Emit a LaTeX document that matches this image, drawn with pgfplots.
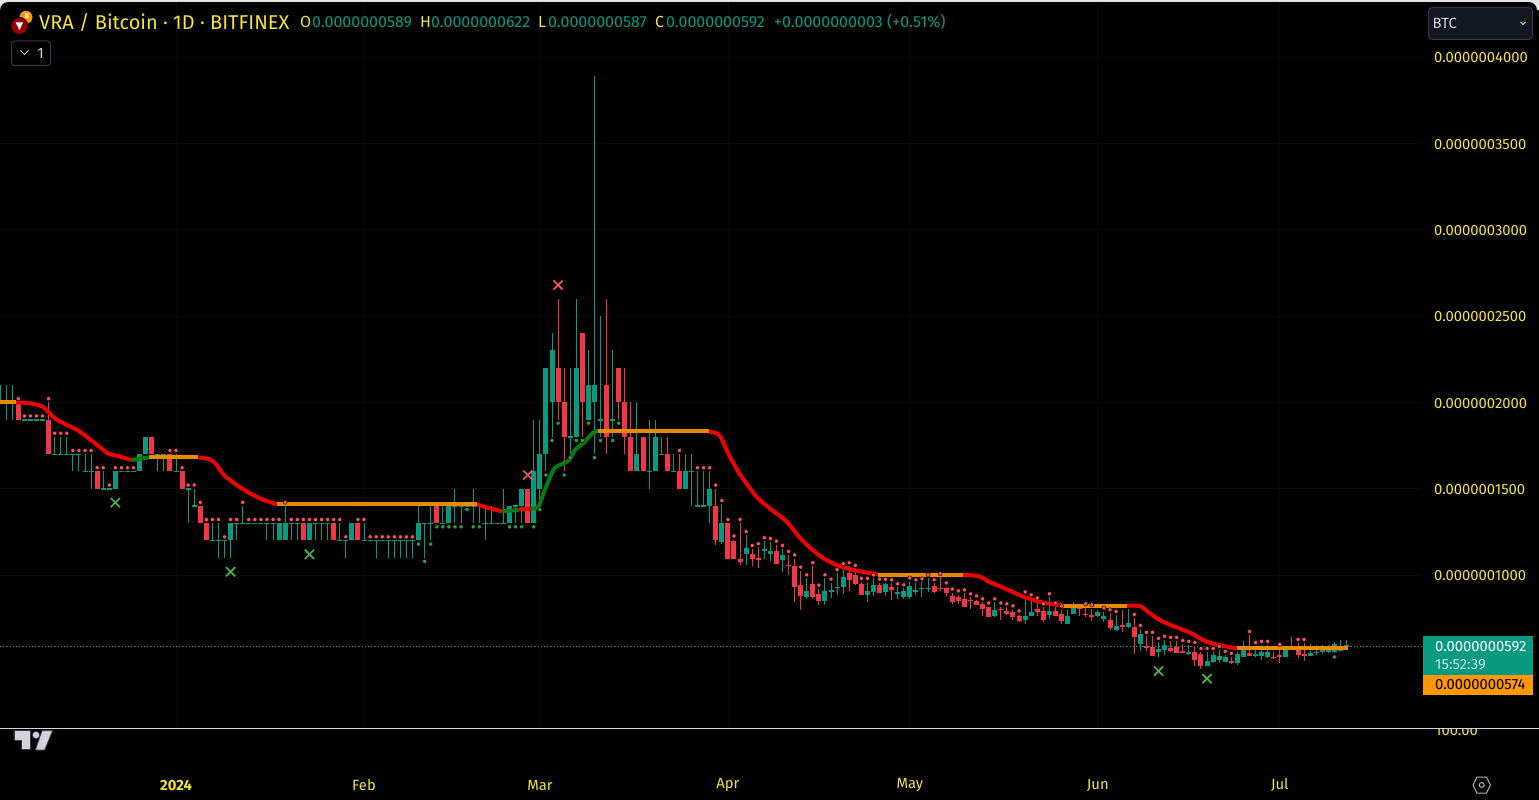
\documentclass[border=0pt]{standalone}
\usepackage{fontspec}
\setmainfont{Fira Sans}
\usepackage{pgfplots}
\usepackage{pgfplotstable}
\pgfplotsset{compat=1.18}

\definecolor{up}{HTML}{089981}
\definecolor{down}{HTML}{F23645}
\definecolor{dotred}{HTML}{F7525F}
\definecolor{dotgreen}{HTML}{2E9E3E}
\definecolor{xgreen}{HTML}{4CAF50}
\definecolor{tvyellow}{HTML}{F5E23A}
\definecolor{maorange}{HTML}{E88B00}
\definecolor{magreen}{HTML}{0B7A10}
\definecolor{mared}{HTML}{F00000}
\definecolor{boxorange}{HTML}{FF9800}
\definecolor{uigray}{HTML}{D1D4DC}
\definecolor{uiline}{HTML}{363A45}
\definecolor{uifill}{HTML}{131722}

% day of 2024 (0 = 1 Jan), open high low close, signal dot (1 above, -1 below); prices in 1e-10 BTC
\pgfplotstableread{
d o h l c s
-29 2000 2100 2000 2000 0
-28 2000 2100 1900 2000 0
-27 2000 2100 1900 2000 0
-26 2000 2000 1900 1900 1
-25 1900 1900 1900 1900 1
-24 1900 1900 1900 1900 1
-23 1900 1900 1900 1900 1
-22 1900 1900 1900 1900 1
-21 1900 2000 1700 1700 1
-20 1700 1800 1700 1700 1
-19 1700 1800 1700 1700 1
-18 1700 1800 1700 1700 1
-17 1700 1700 1600 1700 1
-16 1700 1700 1600 1700 1
-15 1600 1700 1600 1600 1
-14 1600 1700 1500 1600 1
-13 1600 1600 1500 1500 1
-12 1500 1600 1500 1500 1
-11 1500 1500 1500 1500 1
-10 1500 1600 1500 1600 1
-9 1600 1600 1600 1600 1
-8 1600 1600 1600 1600 1
-7 1600 1600 1600 1600 1
-6 1600 1700 1600 1700 0
-5 1700 1800 1700 1800 0
-4 1800 1800 1700 1700 0
-3 1700 1700 1600 1700 0
-2 1700 1700 1600 1700 0
-1 1700 1700 1600 1600 1
0 1600 1700 1600 1600 1
1 1600 1600 1500 1500 1
2 1500 1500 1300 1500 1
3 1400 1500 1400 1400 1
4 1400 1400 1300 1300 1
5 1300 1300 1200 1200 1
6 1200 1300 1200 1200 1
7 1200 1300 1100 1200 1
8 1200 1200 1100 1200 1
9 1200 1300 1100 1300 1
10 1300 1300 1200 1300 1
11 1300 1400 1300 1300 1
12 1300 1300 1300 1300 1
13 1300 1300 1300 1300 1
14 1300 1300 1300 1300 1
15 1300 1300 1200 1300 1
16 1300 1300 1200 1300 1
17 1200 1300 1200 1300 1
18 1200 1400 1200 1300 1
19 1300 1300 1200 1300 1
20 1300 1300 1200 1300 1
21 1300 1300 1200 1200 1
22 1200 1300 1200 1300 1
23 1300 1300 1200 1300 1
24 1300 1300 1200 1300 1
25 1300 1300 1200 1300 1
26 1300 1300 1200 1200 1
27 1200 1300 1200 1200 1
28 1200 1200 1100 1200 1
29 1200 1300 1200 1300 0
30 1300 1300 1200 1200 1
31 1200 1300 1200 1200 1
32 1200 1200 1200 1200 1
33 1200 1200 1100 1200 1
34 1200 1200 1200 1200 1
35 1200 1200 1100 1200 1
36 1200 1200 1100 1200 1
37 1200 1200 1100 1200 1
38 1200 1200 1100 1200 1
39 1200 1200 1100 1200 1
40 1200 1400 1200 1300 -1
41 1300 1300 1100 1300 -1
42 1300 1400 1200 1300 -1
43 1400 1400 1300 1300 -1
44 1300 1400 1300 1300 -1
45 1300 1400 1300 1400 -1
46 1400 1500 1300 1400 -1
47 1400 1400 1300 1400 -1
48 1400 1400 1400 1400 -1
49 1400 1500 1300 1400 -1
50 1400 1400 1300 1400 -1
51 1300 1400 1200 1300 0
52 1300 1400 1300 1300 0
53 1300 1300 1300 1300 0
54 1300 1500 1300 1300 0
55 1300 1400 1300 1400 -1
56 1400 1400 1300 1400 -1
57 1400 1500 1300 1500 -1
58 1500 1500 1300 1300 0
59 1300 1900 1300 1600 -1
60 1500 1900 1400 1700 -1
61 1700 2200 1600 2200 -1
62 2000 2400 1800 2300 -1
63 2200 2600 1900 2000 -1
64 2000 2200 1600 1800 -1
65 1800 2200 1700 1800 -1
66 1800 2600 1800 2200 -1
67 2400 2400 1800 2000 -1
68 1900 2300 1900 2100 -1
69 2000 3890 1700 2100 -1
70 1900 2500 1800 1900 -1
71 2100 2600 1700 1800 0
72 1900 2300 1800 1900 -1
73 2200 2200 1900 2000 -1
74 2000 2200 1700 1800 0
75 1800 2000 1600 1600 0
76 1600 2000 1600 1700 0
77 1800 1800 1600 1600 0
78 1600 1900 1500 1600 0
79 1600 1900 1600 1800 0
80 1700 1800 1700 1700 0
81 1700 1800 1600 1600 0
82 1600 1700 1600 1600 0
83 1600 1700 1500 1500 1
84 1500 1700 1500 1600 0
85 1600 1700 1400 1600 0
86 1400 1600 1400 1400 1
87 1400 1600 1400 1400 1
88 1400 1600 1300 1500 1
89 1400 1500 1175 1200 1
90 1190 1410 1180 1300 1
91 1300 1300 1090 1090 1
92 1195 1205 1090 1090 1
93 1095 1300 1060 1075 1
94 1120 1230 1060 1155 1
95 1120 1150 1050 1090 1
96 1096 1160 1040 1095 1
97 1145 1195 1090 1145 1
98 1120 1190 1080 1140 1
99 1140 1175 1065 1065 1
100 1085 1150 1020 1115 1
101 1056 1115 1000 1055 1
102 1050 1095 845 933 1
103 940 1025 795 880 1
104 870 980 860 905 1
105 950 1050 860 870 1
106 890 920 825 850 1
107 850 980 825 910 1
108 910 955 865 910 1
109 930 1010 885 930 1
110 930 1045 890 990 1
111 1010 1050 910 970 1
112 1000 1035 940 950 1
113 950 960 885 885 1
114 885 960 845 905 1
115 900 980 880 940 1
116 940 955 895 895 1
117 900 955 880 950 1
118 933 951 858 916 1
119 893 928 864 904 1
120 875 922 864 910 1
121 875 962 864 939 1
122 904 951 887 916 1
123 922 957 875 922 1
124 922 980 904 922 1
125 939 951 897 904 1
126 923 986 910 922 1
127 927 933 881 898 1
128 881 898 835 846 1
129 870 887 835 852 1
130 864 893 812 812 1
131 853 870 806 852 1
132 852 858 829 829 1
133 835 841 760 806 1
134 812 817 754 754 1
135 760 841 754 800 1
136 801 817 742 800 1
137 794 812 771 777 1
138 788 800 742 754 1
139 765 771 730 736 1
140 742 881 719 765 1
141 765 864 760 788 1
142 806 846 765 788 1
143 794 812 730 742 1
144 771 870 748 794 1
145 794 817 765 765 1
146 777 800 719 736 1
147 719 800 719 760 0
148 777 841 777 835 0
149 807 835 760 806 0
150 772 812 754 771 1
151 766 806 736 765 1
152 760 800 755 783 0
153 748 788 730 760 1
154 739 778 681 693 1
155 681 768 676 705 1
156 706 797 670 705 0
157 699 803 693 722 0
158 699 751 543 641 1
159 600 687 560 658 1
160 584 647 560 583 1
161 583 647 531 531 1
162 554 612 525 571 1
163 566 624 537 595 1
164 577 618 554 560 1
165 583 618 548 548 1
166 555 600 548 554 1
167 542 595 535 554 1
168 554 589 473 508 1
169 542 554 456 473 1
170 473 554 473 502 1
171 496 554 490 537 1
172 508 566 490 531 1
173 496 537 496 525 1
174 497 525 485 496 1
175 490 554 479 542 0
176 525 618 525 577 0
177 548 652 531 531 1
178 537 589 525 537 1
179 531 595 508 554 1
180 525 595 519 554 1
181 524 554 513 523 0
182 532 577 490 531 1
183 525 583 525 566 0
184 583 641 566 566 0
185 583 606 519 537 1
186 540 606 502 539 1
187 531 600 531 548 0
188 554 595 537 554 0
189 562 595 542 562 0
190 554 595 546 583 0
191 554 612 546 600 -1
192 560 624 560 589 0
193 589 622 587 592 0
}\candles

\pgfplotsset{
  wick/.style={draw=none, mark=none, forget plot,
    error bars/.cd, y dir=both, y explicit, error mark=none,
    error bar style={line width=1pt, draw=#1}},
  body/.style={draw=none, mark=none, forget plot,
    error bars/.cd, y dir=both, y explicit, error mark=none,
    error bar style={line width=5pt, draw=#1}},
  ma/.style={#1, line width=4pt, line join=round, line cap=butt, mark=none, forget plot},
  mas/.style={ma=#1, smooth, tension=0.45},
}

\begin{document}
\begin{tikzpicture}[x=1pt,y=-1pt]
\useasboundingbox (0,0) rectangle (1539,800);
\fill[black] (0,0) rectangle (1539,800);

\begin{axis}[
  at={(0pt,-728pt)}, anchor=south west,
  scale only axis, width=1422pt, height=728pt,
  xmin=-29.02, xmax=205.44, ymin=114.1, ymax=4329.5,
  axis line style={draw=none}, tick style={draw=none}, major tick length=0pt,
  grid=major, grid style={color=black!97!white, line width=0.8pt},
  xtick={0,31,60,91,121,152,182},
  xticklabels={\textbf{2024},Feb,Mar,Apr,May,Jun,Jul},
  xticklabel style={anchor=center, yshift=-57pt, text=tvyellow, font=\fontsize{14.8}{16}\selectfont},
  ytick={1000,1500,2000,2500,3000,3500,4000},
  yticklabels={0.0000001000,0.0000001500,0.0000002000,0.0000002500,0.0000003000,0.0000003500,0.0000004000},
  yticklabel pos=right,
  yticklabel style={anchor=west, xshift=12pt, yshift=-1pt, inner xsep=0pt, text=tvyellow, font=\fontsize{14.8}{16}\selectfont},
]
% last price line
\addplot[up, line width=1.2pt, dash pattern=on 1.2pt off 2pt, forget plot] coordinates {(-29.02,585)(205.44,585)};

% candles, wicks first
\addplot[restrict expr to domain={\thisrow{c}-\thisrow{o}}{0:9999}, wick=up]
  table[x=d, y=l, y error plus expr=\thisrow{h}-\thisrow{l}, y error minus expr=0] {\candles};
\addplot[restrict expr to domain={\thisrow{c}-\thisrow{o}}{-9999:-0.5}, wick=down]
  table[x=d, y=l, y error plus expr=\thisrow{h}-\thisrow{l}, y error minus expr=0] {\candles};
\addplot[restrict expr to domain={\thisrow{c}-\thisrow{o}}{0:9999}, body=up]
  table[x=d, y expr=(\thisrow{o}+\thisrow{c})/2,
        y error expr={max(abs(\thisrow{c}-\thisrow{o})/2,3)}] {\candles};
\addplot[restrict expr to domain={\thisrow{c}-\thisrow{o}}{-9999:-0.5}, body=down]
  table[x=d, y expr=(\thisrow{o}+\thisrow{c})/2,
        y error expr={max(abs(\thisrow{c}-\thisrow{o})/2,3)}] {\candles};

% signal dots
\addplot[only marks, mark=*, mark size=2.1pt, mark options={draw=none, fill=dotred}, forget plot,
  restrict expr to domain={\thisrow{s}}{0.5:1.5}]
  table[x=d, y expr=\thisrow{h}+21] {\candles};
\addplot[only marks, mark=*, mark size=2.1pt, mark options={draw=none, fill=dotgreen}, forget plot,
  restrict expr to domain={\thisrow{s}}{-1.5:-0.5}]
  table[x=d, y expr=\thisrow{l}-21] {\candles};

% moving average: red falling, green rising, orange flat
\addplot[mas=mared] coordinates {(-26.4,2000)(-24.1,1994)(-22,1975)(-19.95,1907)(-18,1869)(-16.1,1836)(-14.2,1786)(-12.5,1739)(-11.2,1704)(-9.2,1685)(-7.3,1666)};
\addplot[mas=mared] coordinates {(3.7,1681)(5.6,1670)(6.7,1637)(7.9,1579)(10,1521)(11.9,1479)(13.85,1443)(15,1428)(16.6,1409)};
\addplot[mas=mared] coordinates {(49.6,1409)(51.2,1392)(53.7,1369)};
\addplot[ma=mared] coordinates {(56.5,1380)(58.5,1382)};
\addplot[mas=mared] coordinates {(87.8,1830)(88.87,1824)(89.8,1801)(90.8,1724)(92.7,1598)(95.7,1454)(97.9,1386)(100.7,1309)(103.2,1203)(106.2,1110)(108.9,1058)(112.2,1025)(115.7,1004)};
\addplot[mas=mared] coordinates {(129.8,1002)(132.6,991)(134,962)(137,917)(139.7,875)(143,840)(146.3,823)};
\addplot[mas=mared] coordinates {(156.75,822)(158.95,820)(160.6,778)(162.2,739)(164.4,705)(167.2,666)(169.9,614)(172.7,589)(174.9,575)};
\addplot[ma=magreen] coordinates {(-7.3,1666)(-4.5,1681)};
\addplot[ma=magreen] coordinates {(53.7,1369)(56.5,1376)};
\addplot[mas=magreen] coordinates {(58.5,1382)(59.75,1396)(60.6,1473)(61.7,1569)(62.5,1621)(63.9,1647)(64.85,1666)(65.8,1724)(67.2,1766)(68.8,1826)(69.6,1832)};
\addplot[ma=maorange] coordinates {(-29.02,2000)(-26.4,2000)};
\addplot[ma=maorange] coordinates {(-4.5,1681)(3.7,1681)};
\addplot[ma=maorange] coordinates {(16.6,1409)(49.6,1409)};
\addplot[ma=maorange] coordinates {(69.6,1832)(87.8,1832)};
\addplot[ma=maorange] coordinates {(115.7,1002)(129.8,1002)};
\addplot[ma=maorange] coordinates {(146.3,823)(156.75,823)};
\addplot[ma=maorange] coordinates {(174.9,575)(193.2,575)};

% cross signals
\addplot[only marks, mark=x, mark size=6.5pt, mark options={draw=dotred, line width=1.7pt}, forget plot]
  coordinates {(63,2679)(58,1579)};
\addplot[only marks, mark=x, mark size=6.5pt, mark options={draw=xgreen, line width=1.7pt}, forget plot]
  coordinates {(-10,1419)(9,1019)(22,1120)(162,444)(170,400)};
\end{axis}

% window edge: light band with rounded black corners under it
\fill[white!90!black] (0,0) rectangle (1539,2);
\fill[white!90!black] (0,2) -- (8,2) to[out=180,in=90] (0,10) -- cycle;
\fill[white!90!black] (1539,2) -- (1529,2) to[out=0,in=90] (1537,10) -- (1539,10) -- cycle;

% pane divider and cut off volume scale
\draw[uigray, line width=1pt] (0,728.5) -- (1539,728.5);
\begin{scope}
\clip (1430,729.2) rectangle (1530,745);
\node[anchor=west, inner sep=0pt, text=tvyellow, font=\fontsize{14.8}{16}\selectfont] at (1435,731) {100.00};
\end{scope}

% TradingView mark
\begin{scope}[shift={(0,710)}, x=0.3333pt, y=-0.3333pt]
\fill[uigray, draw=uiline, line width=0.8pt] (42,62) -- (90,62) -- (90,118) -- (65,118) -- (65,90) -- (42,90) -- cycle;
\fill[uigray, draw=uiline, line width=0.8pt] (108,75) circle[radius=11];
\fill[uigray, draw=uiline, line width=0.8pt] (126,62) -- (158,62) -- (134,120) -- (106,120) -- cycle;
\end{scope}

% header
\fill[boxorange] (26,17.3) circle[radius=6.5];
\node[text=white, font=\bfseries\fontsize{7}{7}\selectfont, inner sep=0pt] at (27,16.5) {B};
\fill[black] (19.3,26) circle[radius=9];
\fill[red!60!black] (19.3,26) circle[radius=8];
\fill[white] (15.5,22.5) -- (23,22.5) -- (19.5,30) -- cycle;
\node[anchor=west, inner sep=0pt, text=tvyellow, font=\fontsize{20}{22}\selectfont] at (39,22) {VRA / Bitcoin · 1D · BITFINEX};
\begin{scope}[every node/.style={anchor=west, inner sep=0pt, font=\fontsize{16}{18}\selectfont}]
\node[text=tvyellow] at (300,22) {O};
\node[text=up] at (312,22) {0.0000000589};
\node[text=tvyellow] at (420,22) {H};
\node[text=up] at (431,22) {0.0000000622};
\node[text=tvyellow] at (538,22) {L};
\node[text=up] at (548,22) {0.0000000587};
\node[text=tvyellow] at (655,22) {C};
\node[text=up] at (666,22) {0.0000000592};
\node[text=up] at (774,22) {+0.0000000003};
\node[text=up] at (887,22) {(+0.51\%)};
\end{scope}

% collapse button
\draw[uiline, line width=1pt, rounded corners=3pt] (11.5,41) rectangle (50.5,65.5);
\draw[uigray, line width=1pt] (20.5,50.5) -- (24.5,54.5) -- (28.5,50.5);
\node[text=uigray, font=\fontsize{15}{18}\selectfont, inner sep=0pt] at (40.5,53) {1};

% currency selector
\draw[uiline, fill=uifill, line width=1pt, rounded corners=4pt] (1428.5,7.5) rectangle (1532.5,39.5);
\node[anchor=west, inner sep=0pt, text=uigray, font=\fontsize{14.8}{16}\selectfont] at (1432.5,23) {BTC};
\draw[uigray, line width=1pt] (1520.5,22) -- (1523,24.5) -- (1525.5,22);

% price labels
\fill[up] (1423,636) rectangle (1532.5,675);
\fill[boxorange] (1423,675) rectangle (1532.5,695);
\node[anchor=west, inner sep=0pt, text=white, font=\fontsize{14.8}{16}\selectfont] at (1435,646.5) {0.0000000592};
\node[anchor=west, inner sep=0pt, text=white!75!up, font=\fontsize{14.8}{16}\selectfont] at (1435,665) {15:52:39};
\node[anchor=west, inner sep=0pt, text=black, font=\fontsize{14.8}{16}\selectfont] at (1435,685) {0.0000000574};

% settings icon
\draw[white!70!black, line width=1pt] (1473,785) -- (1477,777) -- (1486.5,777) -- (1490.5,785) -- (1486.5,793) -- (1477,793) -- cycle;
\draw[white!70!black, line width=1pt] (1481.7,785) circle[radius=2.5];
\end{tikzpicture}
\end{document}
